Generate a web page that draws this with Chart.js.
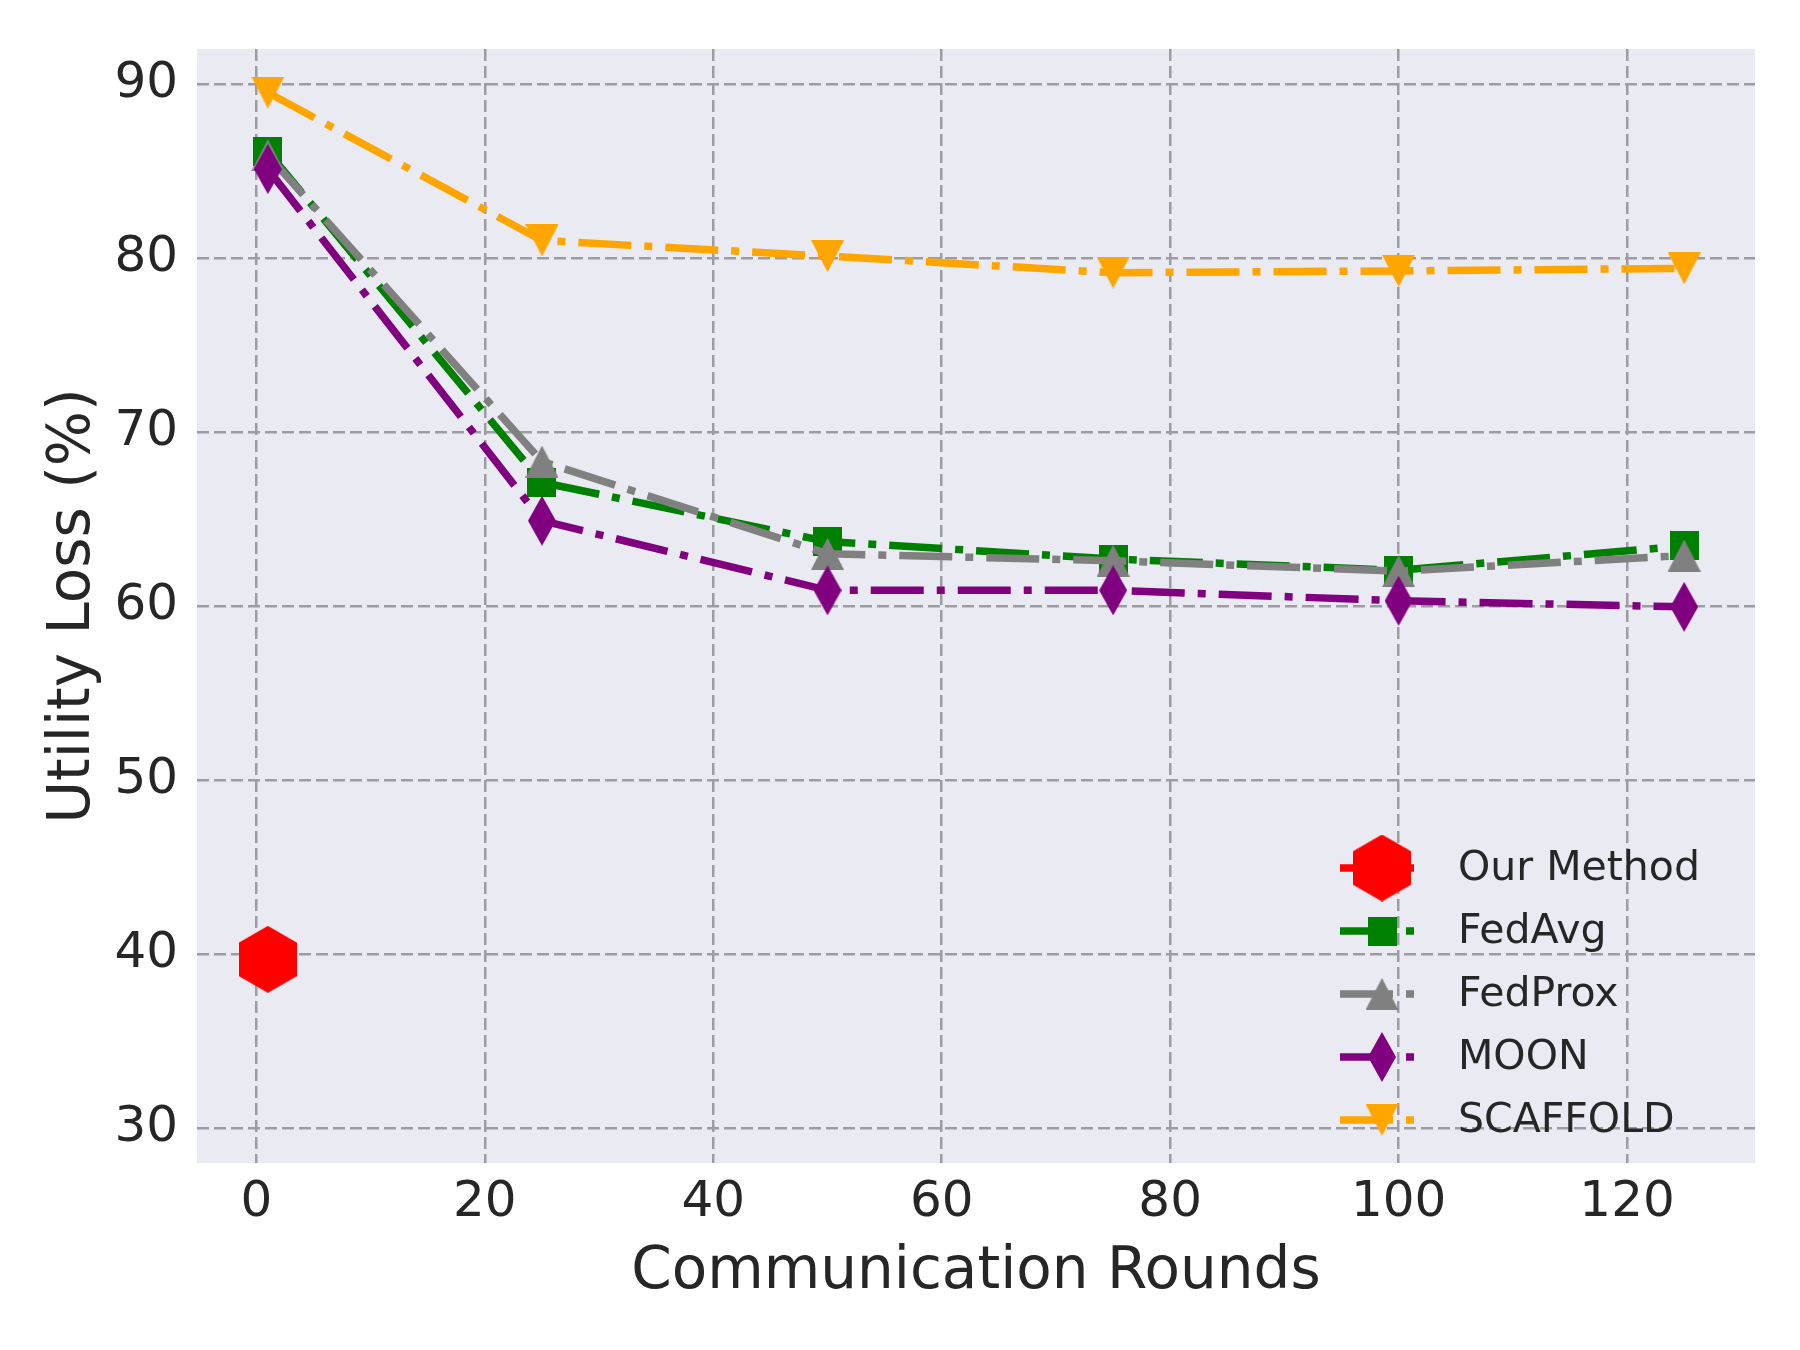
<!DOCTYPE html>
<html>
<head>
<meta charset="utf-8">
<script src="https://cdn.jsdelivr.net/npm/chart.js@4.4.1/dist/chart.umd.min.js"></script>
<style>
  html, body { margin: 0; padding: 0; background: #ffffff; }
  #wrap { width: 1800px; height: 1350px; }
</style>
</head>
<body>
<div id="wrap"><canvas id="lossChart" width="1800" height="1350"></canvas></div>
<script>
// Data
const rounds = [1, 25, 50, 75, 100, 125];
const ourRounds = [1];
const ourMethod = [39.7];
const fedAvg = [86.1, 67.1, 63.7, 62.7, 62.05, 63.45];
const fedProx = [85.9, 68.3, 63.0, 62.6, 62.0, 62.9];
const moon = [85.1, 64.9, 60.9, 60.9, 60.3, 59.95];
const scaffold = [89.5, 81.0, 80.1, 79.15, 79.25, 79.4];
const xTicks = [0, 20, 40, 60, 80, 100, 120];
const yTicks = [30, 40, 50, 60, 70, 80, 90];

const FONT = "'DejaVu Sans', 'Liberation Sans', sans-serif";
const TEXT = '#262626';
const DASHDOT = [53, 13, 8, 13];

// matplotlib-like markers drawn on small canvases
function makeMarker(shape, color, w, h) {
    const c = document.createElement('canvas');
    c.width = w; c.height = h;
    const g = c.getContext('2d');
    g.fillStyle = color;
    g.beginPath();
    if (shape === 'square') {
        g.rect(0, 0, w, h);
    } else if (shape === 'up') {
        g.moveTo(w / 2, 0); g.lineTo(w, h); g.lineTo(0, h);
    } else if (shape === 'down') {
        g.moveTo(0, 0); g.lineTo(w, 0); g.lineTo(w / 2, h);
    } else if (shape === 'diamond') {
        g.moveTo(w / 2, 0); g.lineTo(w, h / 2); g.lineTo(w / 2, h); g.lineTo(0, h / 2);
    } else if (shape === 'hexagon') {
        const r = h / 2;
        for (let i = 0; i < 6; i++) {
            const a = -Math.PI / 2 + i * Math.PI / 3;
            const px = w / 2 + r * Math.cos(a), py = h / 2 + r * Math.sin(a);
            if (i === 0) g.moveTo(px, py); else g.lineTo(px, py);
        }
    }
    g.closePath();
    g.fill();
    return c;
}

function series(xs, ys) {
    return ys.map((v, i) => ({ x: xs[i], y: v }));
}

function lineSet(label, xs, ys, color, marker, order) {
    return {
        label: label,
        data: series(xs, ys),
        borderColor: color,
        backgroundColor: color,
        borderWidth: 7.5,
        borderDash: DASHDOT,
        pointStyle: marker,
        pointRadius: 18,
        pointHoverRadius: 18,
        tension: 0,
        fill: false,
        order: order
    };
}

const datasets = [
    lineSet('Our Method', ourRounds, ourMethod, '#FF0000', makeMarker('hexagon', '#FF0000', 58, 67), 5),
    lineSet('FedAvg', rounds, fedAvg, '#008000', makeMarker('square', '#008000', 29, 29), 4),
    lineSet('FedProx', rounds, fedProx, '#808080', makeMarker('up', '#808080', 33, 32), 3),
    lineSet('MOON', rounds, moon, '#800080', makeMarker('diamond', '#800080', 28, 50), 2),
    lineSet('SCAFFOLD', rounds, scaffold, '#FFA500', makeMarker('down', '#FFA500', 33, 32), 1)
];

// plot background (seaborn darkgrid look)
const plotBackground = {
    id: 'plotBackground',
    beforeDraw(chart) {
        const { ctx, chartArea: a } = chart;
        ctx.save();
        ctx.fillStyle = '#EAEAF2';
        ctx.fillRect(a.left, a.top, a.right - a.left, a.bottom - a.top);
        ctx.restore();
    }
};

// legend with line + marker handles, lower right like matplotlib
const lineLegend = {
    id: 'lineLegend',
    afterDraw(chart) {
        const ctx = chart.ctx;
        const a = chart.chartArea;
        const rowH = 63;
        const x0 = a.right - 415;
        const handleLen = 83;
        let y = a.bottom - 295;
        ctx.save();
        chart.data.datasets.forEach(ds => {
            ctx.strokeStyle = ds.borderColor;
            ctx.lineWidth = ds.borderWidth;
            ctx.setLineDash(ds.borderDash);
            ctx.beginPath();
            ctx.moveTo(x0, y);
            ctx.lineTo(x0 + handleLen, y);
            ctx.stroke();
            ctx.setLineDash([]);
            const m = ds.pointStyle;
            ctx.drawImage(m, x0 + 42 - m.width / 2, y - m.height / 2);
            ctx.fillStyle = TEXT;
            ctx.font = '41px ' + FONT;
            ctx.textBaseline = 'middle';
            ctx.textAlign = 'left';
            ctx.fillText(ds.label, x0 + 118, y + 1);
            y += rowH;
        });
        ctx.restore();
    }
};

const gridStyle = {
    color: '#9c9ca2',
    lineWidth: 2.5,
    drawTicks: false
};

new Chart(document.getElementById('lossChart'), {
    type: 'line',
    data: { datasets: datasets },
    options: {
        responsive: false,
        maintainAspectRatio: false,
        devicePixelRatio: 1,
        animation: false,
        layout: { padding: { top: 45, right: 45, left: 0, bottom: 0 } },
        plugins: {
            legend: { display: false },
            tooltip: { enabled: false }
        },
        scales: {
            x: {
                type: 'linear',
                min: -5.2,
                max: 131.2,
                border: { display: false, dash: [12, 5] },
                grid: gridStyle,
                ticks: {
                    color: TEXT,
                    font: { family: FONT, size: 50 },
                    padding: 10
                },
                afterBuildTicks(scale) { scale.ticks = xTicks.map(v => ({ value: v })); },
                afterFit(scale) { scale.height = 187; },
                title: {
                    display: true,
                    text: 'Communication Rounds',
                    color: TEXT,
                    font: { family: FONT, size: 58 },
                    padding: { top: 0, bottom: 42 }
                }
            },
            y: {
                type: 'linear',
                min: 28,
                max: 92,
                border: { display: false, dash: [12, 5] },
                grid: gridStyle,
                ticks: {
                    color: TEXT,
                    font: { family: FONT, size: 50 },
                    padding: 19
                },
                afterBuildTicks(scale) { scale.ticks = yTicks.map(v => ({ value: v })); },
                afterFit(scale) { scale.width = 197; },
                title: {
                    display: true,
                    text: 'Utility Loss (%)',
                    color: TEXT,
                    font: { family: FONT, size: 58 },
                    padding: { top: 39, bottom: 0 }
                }
            }
        }
    },
    plugins: [plotBackground, lineLegend]
});
</script>
</body>
</html>
